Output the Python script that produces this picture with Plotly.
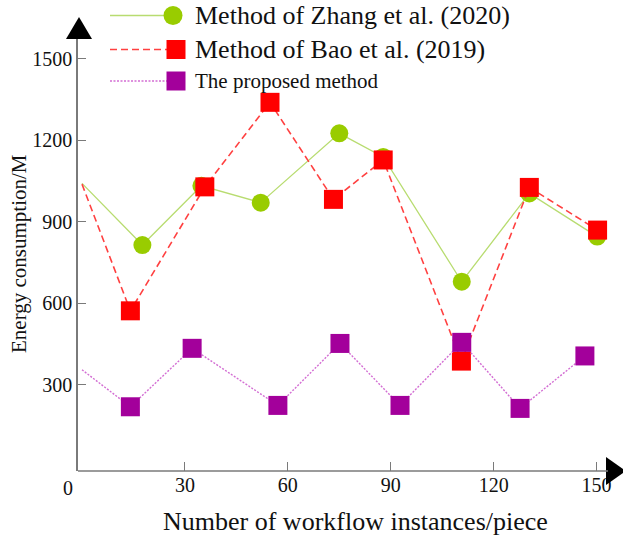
import plotly.graph_objects as go

# Data
zhang_x = [0, 17.6, 34.8, 52.1, 75.0, 87.8, 110.7, 130.4, 150.2]
zhang_y = [1041, 814, 1032, 970, 1225, 1138, 679, 1004, 845]
bao_x = [0, 14.1, 35.8, 54.8, 73.3, 87.8, 110.6, 130.4, 150.3]
bao_y = [1038, 572, 1028, 1339, 982, 1127, 387, 1026, 869]
prop_x = [0, 14.1, 32.1, 57.1, 75.2, 92.7, 110.7, 127.7, 146.6]
prop_y = [355, 219, 434, 224, 452, 224, 456, 213, 406]

x_ticks = [30, 60, 90, 120, 150]
y_ticks = [300, 600, 900, 1200, 1500]

series_names = ["Method of Zhang et al. (2020)", "Method of Bao et al. (2019)", "The proposed method"]

GREEN = "#99CC00"
GREEN_LINE = "#B8DC70"
RED = "#FF0000"
RED_LINE = "#FF4040"
PURPLE = "#A3009B"
PURPLE_LINE = "#D36ED3"
AXIS = "#7a7a7a"
FONT = "Liberation Serif"

W, H = 623, 537
ML, MR, MT, MB = 78, 11, 39, 66
PW, PH = W - ML - MR, H - MT - MB


def px_x(p):
    return (p - ML) / PW


def px_y(p):
    return (H - MB - p) / PH


def msizes(n, s):
    return [0] + [s] * (n - 1)


fig = go.Figure()
fig.add_trace(go.Scatter(
    x=zhang_x, y=zhang_y, mode="lines+markers", name=series_names[0],
    line=dict(color=GREEN_LINE, width=1.3),
    marker=dict(symbol="circle", size=msizes(len(zhang_x), 18), color=GREEN, opacity=1,
                line=dict(width=0)),
    showlegend=False))
fig.add_trace(go.Scatter(
    x=bao_x, y=bao_y, mode="lines+markers", name=series_names[1],
    line=dict(color=RED_LINE, width=1.6, dash="7px,4px"),
    marker=dict(symbol="square", size=msizes(len(bao_x), 19), color=RED, opacity=1,
                line=dict(width=0)),
    showlegend=False))
fig.add_trace(go.Scatter(
    x=prop_x, y=prop_y, mode="lines+markers", name=series_names[2],
    line=dict(color=PURPLE_LINE, width=1.4, dash="2px,1.5px"),
    marker=dict(symbol="square", size=msizes(len(prop_x), 19), color=PURPLE, opacity=1,
                line=dict(width=0)),
    showlegend=False))

shapes = []
annotations = []

# Axis arrows
shapes.append(dict(type="path", xref="paper", yref="paper",
                   path=f"M {px_x(79)} {px_y(17)} L {px_x(66)} {px_y(39)} L {px_x(92)} {px_y(39)} Z",
                   fillcolor="black", line=dict(width=0)))
shapes.append(dict(type="path", xref="paper", yref="paper",
                   path=f"M {px_x(626)} {px_y(471)} L {px_x(606)} {px_y(457)} L {px_x(606)} {px_y(485)} Z",
                   fillcolor="black", line=dict(width=0)))
# x axis line extension to arrow
shapes.append(dict(type="line", xref="paper", yref="paper",
                   x0=px_x(ML), x1=px_x(608), y0=px_y(471), y1=px_y(471),
                   line=dict(color=AXIS, width=1.5)))

# Manual legend
legend_rows = [
    (15.5, GREEN_LINE, "solid", 1.3, "circle", GREEN, 26, 173),
    (49.5, RED_LINE, "7px,4px", 1.6, "square", RED, 26, 176),
    (81, PURPLE_LINE, "2px,1.5px", 1.4, "square", PURPLE, 21, 176),
]
for i, (yy, lc, dash, lw, sym, mc, fs, mx) in enumerate(legend_rows):
    shapes.append(dict(type="line", xref="paper", yref="paper",
                       x0=px_x(110), x1=px_x(mx), y0=px_y(yy), y1=px_y(yy),
                       line=dict(color=lc, width=lw, dash=dash)))
    r = 9.5
    shapes.append(dict(type="circle" if sym == "circle" else "rect", xref="paper", yref="paper",
                       x0=px_x(mx - r), x1=px_x(mx + r), y0=px_y(yy + r), y1=px_y(yy - r),
                       fillcolor=mc, opacity=1, line=dict(width=0)))
    annotations.append(dict(xref="paper", yref="paper", x=px_x(193), y=px_y(yy),
                            xanchor="left", yanchor="middle", showarrow=False,
                            text=series_names[i], font=dict(family=FONT, size=fs, color="#111111")))

# Origin label and axis titles
annotations.append(dict(xref="paper", yref="paper", x=px_x(68), y=px_y(488),
                        xanchor="center", yanchor="middle", showarrow=False,
                        text="0", font=dict(family=FONT, size=20, color="#111111")))
annotations.append(dict(xref="paper", yref="paper", x=px_x(355), y=px_y(521),
                        xanchor="center", yanchor="middle", showarrow=False,
                        text="Number of workflow instances/piece",
                        font=dict(family=FONT, size=26, color="#111111")))
annotations.append(dict(xref="paper", yref="paper", x=px_x(19), y=px_y(254),
                        xanchor="center", yanchor="middle", showarrow=False, textangle=-90,
                        text="Energy consumption/M",
                        font=dict(family=FONT, size=21, color="#111111")))

fig.update_layout(
    width=W, height=H,
    margin=dict(l=ML, r=MR, t=MT, b=MB, pad=0),
    paper_bgcolor="white", plot_bgcolor="white",
    shapes=shapes, annotations=annotations,
    showlegend=False, hovermode=False,
    font=dict(family=FONT, color="#111111"),
)
fig.update_xaxes(range=[-1.17, 154.5], tickvals=x_ticks, ticktext=[str(v) for v in x_ticks],
                 showgrid=False, zeroline=False, showline=False,
                 ticks="inside", ticklen=9, tickwidth=1.3, tickcolor=AXIS,
                 tickfont=dict(family=FONT, size=20, color="#111111"))
fig.update_yaxes(range=[-17.3, 1572], tickvals=y_ticks, ticktext=[str(v) for v in y_ticks],
                 showgrid=False, zeroline=False, showline=True, linecolor=AXIS, linewidth=1.5,
                 ticks="inside", ticklen=8, tickwidth=1.3, tickcolor=AXIS,
                 tickfont=dict(family=FONT, size=20, color="#111111"))

fig.write_html("out.html", config={"displayModeBar": False},
               post_script="document.body.style.margin='0';document.body.style.padding='0';document.body.style.overflow='hidden';")
